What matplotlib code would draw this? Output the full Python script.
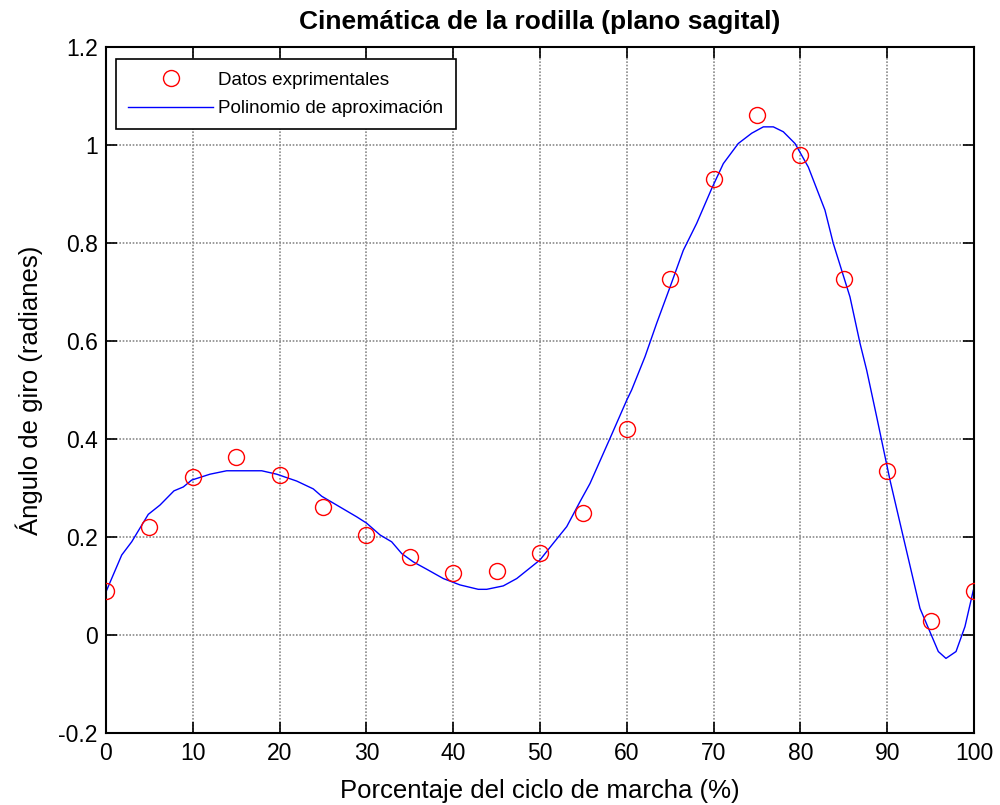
import matplotlib
matplotlib.use("Agg")
import matplotlib.pyplot as plt

plt.rcParams['font.family'] = ['Liberation Sans', 'DejaVu Sans']

# Experimental data
x_data = [0, 5, 10, 15, 20, 25, 30, 35, 40, 45, 50, 55, 60, 65, 70, 75, 80, 85, 90, 95, 100]
y_data = [0.091, 0.222, 0.324, 0.365, 0.328, 0.262, 0.205, 0.160, 0.128, 0.132, 0.169,
          0.250, 0.422, 0.728, 0.932, 1.062, 0.980, 0.728, 0.336, 0.030, 0.091]

# Approximating polynomial
x_fit = [0, 1.81, 2.96, 4.87, 6.22, 7.83, 8.91, 9.87, 11.98, 13.9, 17.94, 19.67, 21.97,
         23.88, 24.85, 26.96, 28.88, 30.03, 31.57, 32.91, 34.07, 35.4, 36.95, 38.86,
         40.78, 42.89, 43.86, 45.77, 47.32, 50.0, 51.53, 53.08, 54.61, 55.76, 58.06,
         59.99, 60.56, 62.1, 63.44, 64.98, 66.51, 68.05, 69.78, 71.12, 72.84, 74.39,
         75.73, 76.88, 78.03, 79.38, 80.91, 82.83, 83.79, 85.71, 86.87, 87.64, 88.79,
         90.32, 91.85, 93.78, 95.89, 96.77, 97.93, 98.96, 99.92]
y_fit = [0.089, 0.164, 0.191, 0.247, 0.266, 0.295, 0.303, 0.317, 0.329, 0.336, 0.336,
         0.329, 0.315, 0.299, 0.284, 0.262, 0.242, 0.229, 0.205, 0.191, 0.167, 0.150,
         0.135, 0.116, 0.103, 0.094, 0.094, 0.101, 0.116, 0.154, 0.188, 0.222, 0.273,
         0.310, 0.402, 0.480, 0.501, 0.569, 0.637, 0.711, 0.786, 0.841, 0.912, 0.963,
         1.004, 1.025, 1.038, 1.038, 1.028, 1.004, 0.956, 0.868, 0.800, 0.691, 0.596,
         0.541, 0.446, 0.317, 0.201, 0.055, -0.033, -0.047, -0.033, 0.018, 0.092]

x_ticks = [0, 10, 20, 30, 40, 50, 60, 70, 80, 90, 100]
y_ticks = [-0.2, 0, 0.2, 0.4, 0.6, 0.8, 1, 1.2]
y_ticklabels = ['-0.2', '0', '0.2', '0.4', '0.6', '0.8', '1', '1.2']

fig = plt.figure(figsize=(10, 8.05), dpi=100)
ax = fig.add_axes([0.106, 0.089, 0.868, 0.852])

ax.plot(x_data, y_data, 'o', mfc='none', mec='red', mew=1.0, ms=11.5,
        label='Datos exprimentales', zorder=3)
ax.plot(x_fit, y_fit, '-', color='blue', lw=1.0, label='Polinomio de aproximación', zorder=2)

ax.set_xlim(0, 100)
ax.set_ylim(-0.2, 1.2)
ax.set_xticks(x_ticks)
ax.set_yticks(y_ticks)
ax.set_yticklabels(y_ticklabels)
ax.tick_params(direction='in', length=8, width=1.2, top=True, right=True,
               labelsize=16.5, pad=6)
ax.grid(True, color='#8a8a8a', linestyle=(0, (1, 1)), linewidth=1.2)
for s in ax.spines.values():
    s.set_linewidth(1.5)
    s.set_color('black')

ax.set_title('Cinemática de la rodilla (plano sagital)', fontsize=19, fontweight='bold', pad=13)
ax.set_xlabel('Porcentaje del ciclo de marcha (%)', fontsize=18.5, labelpad=10)
ax.set_ylabel('Ángulo de giro (radianes)', fontsize=18.5, labelpad=11)

leg = ax.legend(loc='upper left', bbox_to_anchor=(0.0115, 0.983), borderaxespad=0,
                fancybox=False, edgecolor='black', fontsize=13.6, framealpha=1,
                handlelength=4.5, handletextpad=0.27, borderpad=0.65, labelspacing=0.6)
leg.get_frame().set_linewidth(1.2)

fig.savefig('out.png', dpi=100)
